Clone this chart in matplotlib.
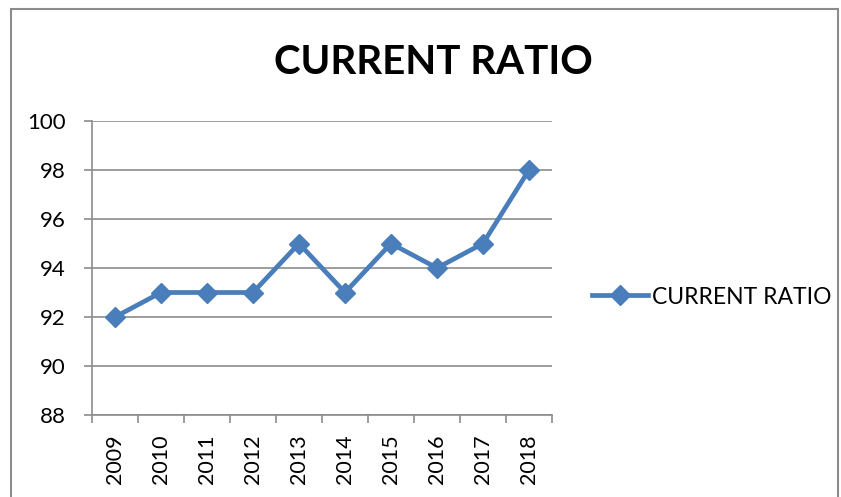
import numpy as np
import matplotlib.pyplot as plt
from matplotlib.patches import Rectangle

plt.rcParams['font.family'] = ['Lato', 'DejaVu Sans']

years = ['2009', '2010', '2011', '2012', '2013', '2014', '2015', '2016', '2017', '2018']
current_ratio = [92, 93, 93, 93, 95, 93, 95, 94, 95, 98]
y_ticks = [88, 90, 92, 94, 96, 98, 100]

fig = plt.figure(figsize=(8.41, 4.97), dpi=100)
ax = fig.add_axes([92 / 841, 1 - 415 / 497, 460 / 841, 294 / 497])

# chart border (Excel style frame, bottom cut off)
fig.patches.append(Rectangle((11 / 841, -0.1), 827 / 841, 1.1 - 9 / 497,
                             transform=fig.transFigure, fill=False,
                             edgecolor='#8c8c8c', linewidth=1.5))

x = np.arange(len(years))
ax.plot(x, current_ratio, color='#4a7ebb', linewidth=3.4, marker='D',
        markersize=10, label='CURRENT RATIO', zorder=3)

ax.set_xlim(-0.5, len(years) - 0.5)
ax.set_ylim(88, 100)
ax.set_yticks(y_ticks)
ax.set_yticklabels([str(v) for v in y_ticks], fontsize=16)
ax.set_xticks(np.arange(-0.5, len(years), 1.0))
ax.set_xticklabels([])
ax.set_xticks(x, minor=True)
ax.set_xticklabels(years, minor=True, rotation=90, fontsize=15.5)
ax.tick_params(axis='x', which='minor', length=0, pad=14)
ax.tick_params(axis='x', which='major', length=6, color='#8c8c8c', width=1.2)
ax.tick_params(axis='y', length=6, color='#8c8c8c', width=1.2, pad=13)

ax.grid(axis='y', color='#8c8c8c', linewidth=1.2)
ax.set_axisbelow(True)
for s in ['top', 'right']:
    ax.spines[s].set_visible(False)
for s in ['left', 'bottom']:
    ax.spines[s].set_color('#8c8c8c')
    ax.spines[s].set_linewidth(1.2)

fig.text(433 / 841, 1 - 62 / 497, 'CURRENT RATIO', ha='center', va='center',
         fontsize=29, fontweight='bold')

ax.legend(loc='center left', bbox_to_anchor=(592 / 841, 1 - 297 / 497),
          bbox_transform=fig.transFigure, frameon=False, fontsize=16.5,
          handlelength=2.45, handletextpad=0.15, borderpad=0,
          borderaxespad=0)

fig.savefig('out.png', dpi=100)
